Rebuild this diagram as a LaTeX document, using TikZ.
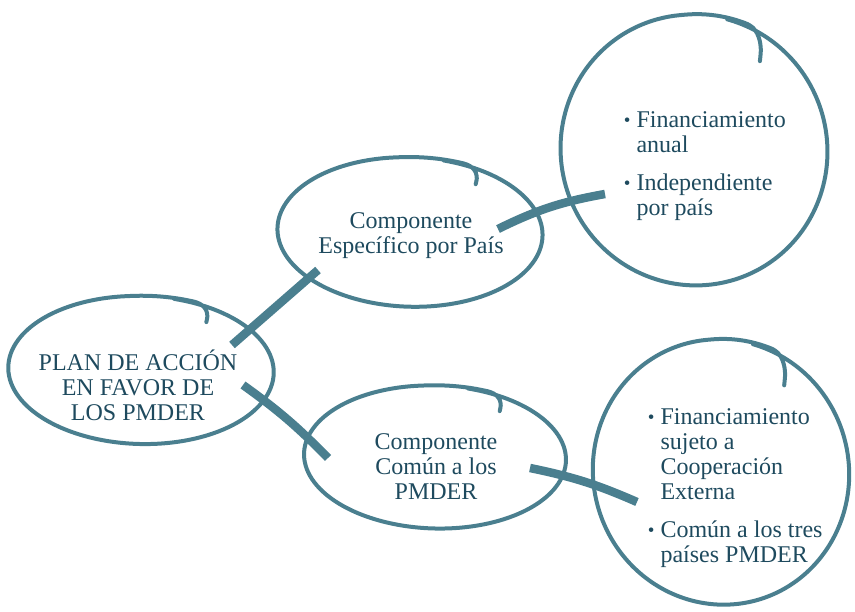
\documentclass[tikz,border=0pt]{standalone}
\usepackage{fontspec}
\setmainfont{Liberation Serif}
\usetikzlibrary{positioning, shapes.geometric}
\definecolor{pdteal}{RGB}{74,127,143}
\definecolor{pdtext}{RGB}{30,74,94}

% hand drawn loop around a node: node, rx, ry, wobble phase
\newcommand\handloop[4]{%
  \draw[loopline, shift={(#1.center)}] plot[smooth, samples=140, domain=-75:308, variable=\t]
    ({#2*(1+0.02*sin(2*\t+#4)+0.0006*max(0,\t-265)-0.001*max(0,\t-294)^2)*cos(\t)},
     {#3*(1+0.02*sin(2*\t+#4)+0.0006*max(0,\t-265)-0.001*max(0,\t-294)^2)*sin(\t)});}
\newcommand\pitem{\leavevmode\llap{\raisebox{1pt}{\fontsize{19}{19}\selectfont\textbullet}\hspace{6pt}}}

\begin{document}
\begin{tikzpicture}[x=1pt, y=-1pt,
  loopnode/.style={ellipse, inner sep=0pt},
  loopline/.style={pdteal, line width=4pt, line cap=round, line join=round},
  brush/.style={pdteal, line width=8.5pt},
  boxtext/.style={text=pdtext, align=center, font=\fontsize{24}{25}\selectfont},
  listtext/.style={text=pdtext, align=left, anchor=west, font=\fontsize{24}{25}\selectfont}]
  \useasboundingbox (0,0) rectangle (855,612);

  % loops
  \node[loopnode, minimum width=262, minimum height=150] (main) at (141,370) {};
  \node[loopnode, minimum width=264, minimum height=150] (spec) at (410,232) {};
  \node[loopnode, minimum width=262, minimum height=276] (anual) at (694,150) {};
  \node[loopnode, minimum width=260, minimum height=144] (comun) at (435,457) {};
  \node[loopnode, minimum width=252, minimum height=270] (ext) at (721,472) {};

  \handloop{main}{131}{75}{40}
  \handloop{spec}{132}{75}{10}
  \handloop{anual}{131}{138}{70}
  \handloop{comun}{130}{72}{20}
  \handloop{ext}{126}{135}{60}

  % texts
  \node[boxtext] (mainlbl) at ([shift={(-3,15)}]main.center)
    {PLAN DE ACCIÓN\\EN FAVOR DE\\LOS PMDER};
  \node[boxtext] (speclbl) at ([shift={(1,4)}]spec.center)
    {Componente\\Específico por País};
  \node[boxtext] (comunlbl) at ([shift={(1,10)}]comun.center)
    {Componente\\Común a los\\PMDER};
  \node[listtext] (anuallbl) at ([shift={(-61,16)}]anual.center)
    {\pitem Financiamiento\\anual\\[13pt]\pitem Independiente\\por país};
  \node[listtext] (extlbl) at ([shift={(-64,16)}]ext.center)
    {\pitem Financiamiento\\sujeto a\\Cooperación\\Externa\\[13pt]\pitem Común a los tres\\países PMDER};

  % brush strokes
  \draw[brush] ([shift={(91,-25)}]main.center) -- ([shift={(-92,38)}]spec.center);
  \draw[brush] ([shift={(88,-3)}]spec.center) to[bend left=8] ([shift={(-89,44)}]anual.center);
  \draw[brush] ([shift={(102,15)}]main.center) to[bend left=5] ([shift={(-107,1)}]comun.center);
  \draw[brush] ([shift={(95,11)}]comun.center) to[bend left=6] ([shift={(-84,30)}]ext.center);
\end{tikzpicture}
\end{document}
